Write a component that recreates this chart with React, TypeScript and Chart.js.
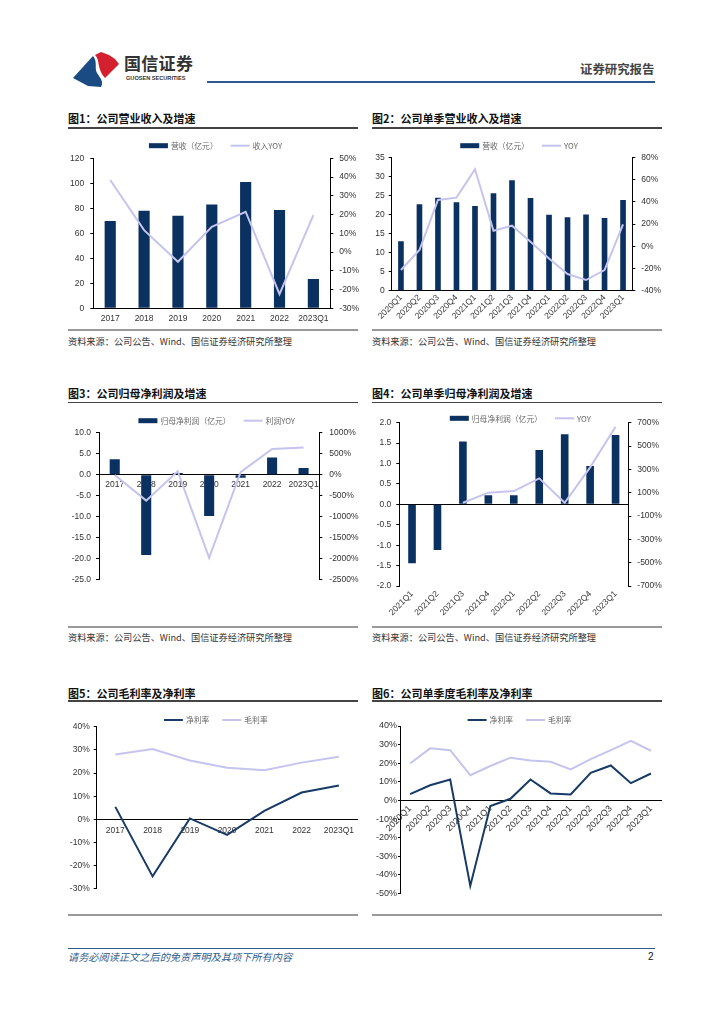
import React, { useEffect, useRef } from 'react';
import { Chart, registerables } from 'chart.js';

Chart.register(...registerables);

const LATIN = '"Liberation Sans", Arial, sans-serif';
const CJK = '"Noto Sans CJK SC", "Noto Sans", sans-serif';
const NAVY = '#0b3160';
const LAVENDER = '#c4c4ee';
const DARKLINE = '#173a66';
const TICK = '#333333';

// ---------- data ----------
const annualLabels = ['2017', '2018', '2019', '2020', '2021', '2022', '2023Q1'];
const revenueAnnual = [69.8, 78, 74, 83, 101, 78.6, 23.4];
const revenueAnnualYoy = [38.4, 11.7, -5.2, 13.5, 21.5, -22.4, 19.7];

const quarterLabels20 = ['2020Q1', '2020Q2', '2020Q3', '2020Q4', '2021Q1', '2021Q2', '2021Q3', '2021Q4', '2022Q1', '2022Q2', '2022Q3', '2022Q4', '2023Q1'];
const revenueQuarter = [13.0, 22.7, 24.4, 23.2, 22.2, 25.6, 29.0, 24.3, 19.9, 19.3, 20.0, 19.1, 23.8];
const revenueQuarterYoy = [-21.4, -3.4, 41.6, 43.7, 69.2, 14.0, 18.5, 4.0, -11.0, -25.0, -30.4, -21.4, 19.7];

const profitAnnual = [3.7, -19.1, 0.4, -9.8, -0.7, 4.1, 1.6];
const profitAnnualYoy = [-5, -615, 85, -1977, 60, 615, 646];

const quarterLabels21 = ['2021Q1', '2021Q2', '2021Q3', '2021Q4', '2022Q1', '2022Q2', '2022Q3', '2022Q4', '2023Q1'];
const profitQuarter = [-1.44, -1.12, 1.54, 0.22, 0.22, 1.33, 1.72, 0.94, 1.70];
const profitQuarterYoy = [null, null, 14, 100, 114, 223, 14, 317, 666];

const netMarginAnnual = [5.4, -24.6, 0.4, -6.7, 3.7, 11.6, 14.6];
const grossMarginAnnual = [28.0, 30.4, 25.4, 22.3, 21.2, 24.5, 27.0];

const netMarginQuarter = [3.4, 8.2, 11.3, -45.9, -3.0, 0.9, 11.3, 3.8, 3.2, 14.9, 18.8, 9.3, 14.5];
const grossMarginQuarter = [19.9, 28.0, 27.0, 13.6, 18.5, 23.0, 21.5, 20.8, 16.7, 22.2, 27.0, 32.0, 26.7];

const fmtInt = (v: number) => String(v);
const fmtPct = (v: number) => `${v}%`;
const fmtOne = (v: number) => v.toFixed(1);

// ---------- legend plugin (draws from dataset labels) ----------
const pageLegend = {
  id: 'pageLegend',
  afterDraw(chart: any, _args: any, opts: any) {
    const { ctx } = chart;
    const dsets = chart.data.datasets;
    ctx.save();
    ctx.font = `7.8px ${CJK}`;
    ctx.textBaseline = 'middle';
    const sw = 19, g1 = 3, g2 = 13;
    const widths = dsets.map((d: any) => sw + g1 + ctx.measureText(d.label).width);
    const total = widths.reduce((a: number, b: number) => a + b, 0) + g2 * (dsets.length - 1);
    let x = opts.cx - total / 2;
    const y = opts.cy;
    dsets.forEach((d: any, i: number) => {
      if (d.type === 'bar') {
        ctx.fillStyle = d.backgroundColor;
        ctx.fillRect(x, y - 2.5, sw, 5);
      } else {
        ctx.strokeStyle = d.borderColor;
        ctx.lineWidth = 2;
        ctx.beginPath();
        ctx.moveTo(x, y);
        ctx.lineTo(x + sw, y);
        ctx.stroke();
      }
      ctx.fillStyle = '#666';
      ctx.fillText(d.label, x + sw + g1, y + 0.5);
      x += widths[i] + g2;
    });
    ctx.restore();
  },
};

type AxisOpts = {
  position: 'left' | 'right';
  min: number; max: number; step: number;
  fmt: (v: number) => string;
  width: number; size: number;
  tickLen?: number; pad?: number; zeroLine?: boolean; dash?: number[];
};

function valueAxis(o: AxisOpts) {
  const border: any = { display: true, color: '#000', width: 1 };
  if (o.dash) border.dash = o.dash;
  return {
    type: 'linear',
    position: o.position,
    min: o.min,
    max: o.max,
    ticks: {
      stepSize: o.step,
      callback: (v: any) => o.fmt(Number(v)),
      font: { family: LATIN, size: o.size },
      color: TICK,
      padding: o.pad ?? 5,
    },
    grid: {
      drawOnChartArea: !!o.zeroLine,
      color: (c: any) => (o.zeroLine && c.tick && c.tick.value === 0 ? '#000' : 'rgba(0,0,0,0)'),
      tickColor: '#000',
      tickLength: o.tickLen ?? 3,
      lineWidth: 1,
    },
    border,
    afterFit: (s: any) => { s.width = o.width; },
  };
}

function categoryAxis(o: { height: number; size: number; pad: number; rotate?: number; atZero?: boolean; border: boolean }) {
  return {
    type: 'category',
    offset: true,
    position: o.atZero ? { y: 0 } : 'bottom',
    grid: { display: true, drawOnChartArea: false, drawTicks: false, color: 'rgba(0,0,0,0)' },
    border: { display: o.border, color: '#000', width: 1 },
    ticks: {
      autoSkip: false,
      maxRotation: o.rotate ?? 0,
      minRotation: o.rotate ?? 0,
      font: { family: LATIN, size: o.size },
      color: TICK,
      padding: o.pad,
    },
    afterFit: (s: any) => { s.height = o.height; },
  };
}

function baseOptions(padTop: number, padRight: number, cx: number, cy: number, scales: any) {
  return {
    responsive: true,
    maintainAspectRatio: false,
    animation: false,
    layout: { padding: { top: padTop, left: 0, right: padRight, bottom: 0 } },
    plugins: { legend: { display: false }, tooltip: { enabled: false }, pageLegend: { cx, cy } },
    scales,
  };
}

function barDs(label: string, data: number[], pct: number) {
  return { type: 'bar', label, data, backgroundColor: NAVY, borderWidth: 0, yAxisID: 'y', order: 1, categoryPercentage: 1, barPercentage: pct };
}
function lineDs(label: string, data: (number | null)[], color: string, axis: string) {
  return { type: 'line', label, data, borderColor: color, backgroundColor: color, borderWidth: 2, pointRadius: 0, tension: 0, yAxisID: axis, order: 0, spanGaps: false };
}

// ---------- chart configs ----------
const config1 = () => ({
  type: 'bar',
  data: { labels: annualLabels, datasets: [barDs('营收（亿元）', revenueAnnual, 0.33), lineDs('收入YOY', revenueAnnualYoy, LAVENDER, 'y1')] },
  options: baseOptions(22.3, 0, 147.5, 9.7, {
    x: categoryAxis({ height: 18.7, size: 8.5, pad: 5, border: true }),
    y: valueAxis({ position: 'left', min: 0, max: 120, step: 20, fmt: fmtInt, width: 25.3, size: 8.5, pad: 6 }),
    y1: valueAxis({ position: 'right', min: -30, max: 50, step: 10, fmt: fmtPct, width: 32.7, size: 8.5, pad: 6 }),
  }),
  plugins: [pageLegend],
});

const config2 = () => ({
  type: 'bar',
  data: { labels: quarterLabels20, datasets: [barDs('营收（亿元）', revenueQuarter, 0.305), lineDs('YOY', revenueQuarterYoy, LAVENDER, 'y1')] },
  options: baseOptions(23.3, 0, 147, 11.7, {
    x: categoryAxis({ height: 36.3, size: 8.5, pad: 2, rotate: 45, border: true }),
    y: valueAxis({ position: 'left', min: 0, max: 35, step: 5, fmt: fmtInt, width: 19.7, size: 8.5, pad: 4 }),
    y1: valueAxis({ position: 'right', min: -40, max: 80, step: 20, fmt: fmtPct, width: 31.7, size: 8.5, pad: 6 }),
  }),
  plugins: [pageLegend],
});

const config3 = () => ({
  type: 'bar',
  data: { labels: annualLabels, datasets: [barDs('归母净利润（亿元）', profitAnnual, 0.32), lineDs('利润YOY', profitAnnualYoy, LAVENDER, 'y1')] },
  options: baseOptions(22.7, 0, 148.7, 10.7, {
    x: categoryAxis({ height: 7, size: 8.5, pad: 5, atZero: true, border: true }),
    y: valueAxis({ position: 'left', min: -25, max: 10, step: 5, fmt: fmtOne, width: 31, size: 8.5, pad: 5 }),
    y1: valueAxis({ position: 'right', min: -2500, max: 1000, step: 500, fmt: fmtPct, width: 43.7, size: 8.5, pad: 7 }),
  }),
  plugins: [pageLegend],
});

const config4 = () => ({
  type: 'bar',
  data: { labels: quarterLabels21, datasets: [barDs('归母净利润（亿元）', profitQuarter, 0.3), lineDs('YOY', profitQuarterYoy, LAVENDER, 'y1')] },
  options: baseOptions(14.7, 0, 148.3, 10.3, {
    x: categoryAxis({ height: 38, size: 8.5, pad: 3, rotate: 45, border: false }),
    y: valueAxis({ position: 'left', min: -2, max: 2, step: 0.5, fmt: fmtOne, width: 27.3, size: 8.5, pad: 5, zeroLine: true }),
    y1: valueAxis({ position: 'right', min: -700, max: 700, step: 200, fmt: fmtPct, width: 37.7, size: 8.5, pad: 6 }),
  }),
  plugins: [pageLegend],
});

const config5 = () => ({
  type: 'line',
  data: { labels: annualLabels, datasets: [lineDs('净利率', netMarginAnnual, DARKLINE, 'y'), lineDs('毛利率', grossMarginAnnual, LAVENDER, 'y')] },
  options: baseOptions(16.7, 4.5, 147.8, 10, {
    x: categoryAxis({ height: 6.3, size: 8.5, pad: 6, atZero: true, border: true }),
    y: valueAxis({ position: 'left', min: -30, max: 40, step: 10, fmt: fmtPct, width: 28.7, size: 8.5, pad: 4, dash: [2, 2] }),
  }),
  plugins: [pageLegend],
});

const config6 = () => ({
  type: 'line',
  data: { labels: quarterLabels20, datasets: [lineDs('净利率', netMarginQuarter, DARKLINE, 'y'), lineDs('毛利率', grossMarginQuarter, LAVENDER, 'y')] },
  options: baseOptions(16, 4, 147.5, 10, {
    x: categoryAxis({ height: 6.7, size: 9, pad: 3, rotate: 45, atZero: true, border: true }),
    y: valueAxis({ position: 'left', min: -50, max: 40, step: 10, fmt: fmtPct, width: 28, size: 9, pad: 1, tickLen: 2 }),
  }),
  plugins: [pageLegend],
});

// ---------- components ----------
function ChartBox({ left, top, width, height, config }: { left: number; top: number; width: number; height: number; config: () => any }) {
  const ref = useRef<HTMLCanvasElement>(null);
  useEffect(() => {
    const chart = new Chart(ref.current as HTMLCanvasElement, config());
    return () => chart.destroy();
  }, []);
  return (
    <div style={{ position: 'absolute', left, top, width, height }}>
      <canvas ref={ref} />
    </div>
  );
}

function Text({ x, cy, size, children, style }: { x: number; cy: number; size: number; children: any; style?: any }) {
  const lh = Math.round(size * 1.4);
  return (
    <div style={{ position: 'absolute', left: x, top: cy - lh / 2, lineHeight: `${lh}px`, fontSize: size, whiteSpace: 'nowrap', fontFamily: CJK, ...style }}>
      {children}
    </div>
  );
}

function HLine({ x, y, w, h, color }: { x: number; y: number; w: number; h: number; color: string }) {
  return <div style={{ position: 'absolute', left: x, top: y - h / 2, width: w, height: h, background: color }} />;
}

const SOURCE = '资料来源：公司公告、Wind、国信证券经济研究所整理';

export default function App() {
  return (
    <div style={{ position: 'absolute', left: 0, top: 0, width: 724, height: 1024, background: '#fff', overflow: 'hidden', fontFamily: CJK }}>
      {/* header */}
      <svg style={{ position: 'absolute', left: 0, top: 0 }} width={130} height={95}>
        <path d="M73,78 L93,56 C98,62 94,68 97,73 C100,78 104,81 101,87 L88,86 Z" fill="#1a4b82" />
        <path d="M95,55 L101,52 L109,55 L115,59 L119,64 L105,78 C101,74 100,70 99,66 C98,61 98,58 95,55 Z" fill="#d4202e" />
      </svg>
      <Text x={124} cy={63.3} size={17} style={{ fontWeight: 'bold', color: '#333', letterSpacing: 0.3 }}>国信证券</Text>
      <Text x={126} cy={77.8} size={5.6} style={{ fontWeight: 'bold', color: '#333', fontFamily: LATIN }}>GUOSEN SECURITIES</Text>
      <Text x={580} cy={69} size={12.4} style={{ fontWeight: 'bold', color: '#444' }}>证券研究报告</Text>
      <HLine x={207} y={82} w={448} h={2} color="#2b5b8c" />

      {/* row 1 */}
      <Text x={68} cy={118} size={11} style={{ fontWeight: 'bold', color: '#111' }}>图1：公司营业收入及增速</Text>
      <Text x={372} cy={118} size={11} style={{ fontWeight: 'bold', color: '#111' }}>图2：公司单季营业收入及增速</Text>
      <HLine x={68} y={128} w={290} h={1.3} color="#444" />
      <HLine x={372} y={128} w={290} h={1.3} color="#444" />
      <ChartBox left={68} top={136} width={295} height={191} config={config1} />
      <ChartBox left={372} top={134} width={292} height={193} config={config2} />
      <HLine x={68} y={330} w={290} h={2} color="#999" />
      <HLine x={372} y={330} w={290} h={2} color="#999" />
      <Text x={68} cy={341} size={9.2} style={{ color: '#333' }}>{SOURCE}</Text>
      <Text x={372} cy={341} size={9.2} style={{ color: '#333' }}>{SOURCE}</Text>

      {/* row 2 */}
      <Text x={68} cy={393} size={11} style={{ fontWeight: 'bold', color: '#111' }}>图3：公司归母净利润及增速</Text>
      <Text x={372} cy={393} size={11} style={{ fontWeight: 'bold', color: '#111' }}>图4：公司单季归母净利润及增速</Text>
      <HLine x={68} y={402.7} w={290} h={1.3} color="#444" />
      <HLine x={372} y={402.7} w={290} h={1.3} color="#444" />
      <ChartBox left={68} top={410} width={295} height={182} config={config3} />
      <ChartBox left={372} top={408} width={294} height={216} config={config4} />
      <HLine x={68} y={626.7} w={290} h={2} color="#999" />
      <HLine x={372} y={626.7} w={290} h={2} color="#999" />
      <Text x={68} cy={637} size={9.2} style={{ color: '#333' }}>{SOURCE}</Text>
      <Text x={372} cy={637} size={9.2} style={{ color: '#333' }}>{SOURCE}</Text>

      {/* row 3 */}
      <Text x={68} cy={693} size={11} style={{ fontWeight: 'bold', color: '#111' }}>图5：公司毛利率及净利率</Text>
      <Text x={372} cy={693} size={11} style={{ fontWeight: 'bold', color: '#111' }}>图6：公司单季度毛利率及净利率</Text>
      <HLine x={68} y={701} w={290} h={1.3} color="#444" />
      <HLine x={372} y={701} w={290} h={1.3} color="#444" />
      <ChartBox left={68} top={710} width={294} height={188} config={config5} />
      <ChartBox left={372} top={710} width={293} height={190} config={config6} />
      <HLine x={68} y={915} w={290} h={2} color="#999" />
      <HLine x={372} y={915} w={290} h={2} color="#999" />

      {/* footer */}
      <HLine x={68} y={948} w={587} h={1} color="#2b5b8c" />
      <Text x={68} cy={957} size={10.2} style={{ fontStyle: 'italic', color: '#2b5b8c' }}>请务必阅读正文之后的免责声明及其项下所有内容</Text>
      <Text x={648} cy={957} size={10} style={{ color: '#111', fontFamily: LATIN }}>2</Text>
    </div>
  );
}
